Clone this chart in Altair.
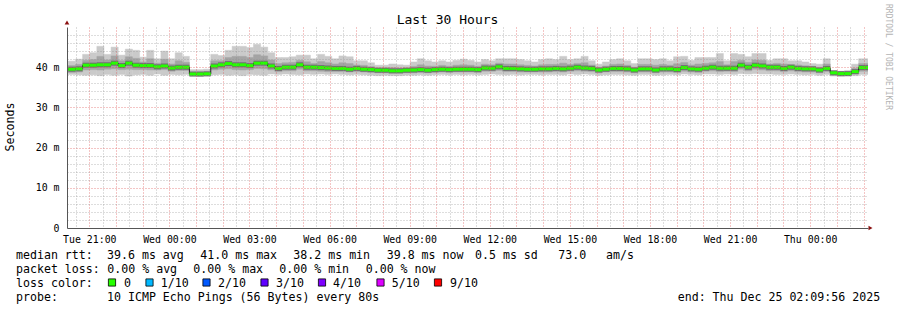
import altair as alt
import pandas as pd

# ---------------- data ----------------
STEP_START = "2025-12-23 19:57:00"   # first (partly hidden) 16-minute step
STEP_MINUTES = 16

median = [
    39.5, 39.5, 39.6, 40.5, 40.5, 40.6, 40.6, 41.0, 40.4, 41.0,
    40.5, 40.4, 40.4, 40.1, 40.3, 39.8, 40.0, 40.0, 38.3, 38.3,
    38.35, 40.3, 40.6, 40.9, 40.6, 40.6, 40.4, 41.0, 41.0, 40.3,
    39.7, 40.0, 40.0, 40.6, 40.0, 40.0, 39.9, 39.8, 39.7, 39.7,
    39.5, 39.7, 39.5, 39.4, 39.25, 39.25, 39.1, 39.1, 39.25, 39.3,
    39.4, 39.25, 39.4, 39.5, 39.4, 39.5, 39.5, 39.5, 39.4, 39.8,
    39.75, 40.1, 39.7, 39.7, 39.6, 39.5, 39.5, 39.6, 39.6, 39.7,
    39.6, 39.75, 40.0, 39.8, 39.7, 39.3, 39.5, 39.7, 39.7, 39.6,
    39.3, 39.6, 39.6, 39.3, 39.6, 39.6, 39.4, 39.9, 39.6, 39.5,
    39.75, 40.0, 39.75, 39.75, 39.75, 40.5, 40.0, 40.5, 40.3, 40.0,
    40.0, 39.7, 40.0, 39.7, 39.6, 39.6, 39.3, 39.7, 38.6, 38.4,
    38.4, 38.9, 39.9, 39.9,
]
smoke_hi1 = [
    41.5, 41.5, 42.0, 43.2, 43.6, 45.2, 43.2, 45.0, 43.0, 44.5,
    44.2, 42.5, 44.2, 42.1, 44.0, 42.1, 43.6, 42.7, 39.4, 39.4,
    39.5, 43.2, 42.9, 44.2, 45.2, 45.2, 44.9, 45.7, 45.0, 43.6,
    42.4, 42.4, 42.6, 43.0, 43.0, 42.1, 43.2, 42.7, 42.1, 42.8,
    42.6, 41.6, 41.6, 41.1, 40.5, 40.5, 40.8, 40.6, 40.5, 41.3,
    42.1, 41.6, 41.3, 41.6, 41.3, 41.7, 42.0, 41.7, 41.3, 41.9,
    41.6, 42.1, 42.1, 42.1, 41.9, 41.6, 41.3, 41.9, 42.1, 41.9,
    42.7, 41.9, 42.1, 42.7, 41.6, 40.75, 41.3, 41.9, 42.1, 41.6,
    40.9, 42.1, 42.1, 41.9, 42.1, 41.6, 42.6, 42.7, 41.7, 42.4,
    42.4, 42.4, 43.4, 41.6, 43.4, 43.2, 42.6, 43.4, 43.4, 41.7,
    42.1, 42.1, 41.6, 41.6, 41.3, 40.9, 40.75, 42.1, 39.1, 39.0,
    39.2, 40.75, 42.1, 42.1,
]
smoke_hi2 = [
    40.4, 40.4, 40.7, 41.7, 41.9, 42.7, 41.8, 42.8, 41.6, 42.6,
    42.2, 41.3, 42.1, 41.0, 42.0, 40.8, 41.6, 41.2, 38.8, 38.8,
    38.85, 41.6, 41.6, 42.4, 42.7, 42.7, 42.4, 43.1, 42.8, 41.8,
    40.9, 41.1, 41.2, 41.7, 41.35, 40.95, 41.4, 41.1, 40.8, 41.1,
    40.9, 40.55, 40.45, 40.15, 39.8, 39.8, 39.9, 39.8, 39.8, 40.2,
    40.6, 40.3, 40.25, 40.45, 40.25, 40.5, 40.6, 40.5, 40.25, 40.75,
    40.6, 41.0, 40.8, 40.8, 40.6, 40.45, 40.3, 40.6, 40.7, 40.7,
    41.0, 40.7, 40.95, 41.1, 40.55, 39.95, 40.3, 40.7, 40.8, 40.5,
    40.0, 40.7, 40.7, 40.5, 40.7, 40.5, 40.85, 41.15, 40.55, 40.8,
    40.95, 41.1, 41.4, 40.6, 41.4, 41.7, 41.2, 41.8, 41.7, 40.75,
    40.95, 40.8, 40.7, 40.55, 40.35, 40.2, 39.95, 40.8, 38.85, 38.7,
    38.75, 39.75, 40.9, 40.9,
]
smoke_lo1 = [
    38.2, 38.2, 38.1, 38.0, 38.1, 37.9, 38.2, 38.0, 38.2, 37.8,
    38.1, 38.2, 38.0, 38.3, 38.0, 38.2, 38.1, 38.2, 37.8, 37.7,
    37.8, 38.1, 38.2, 38.0, 38.1, 37.9, 38.2, 38.1, 38.0, 38.3,
    38.2, 38.3, 38.2, 38.1, 38.3, 38.2, 38.3, 38.2, 38.3, 38.2,
    38.1, 38.2, 38.1, 38.0, 37.9, 38.0, 37.9, 37.9, 38.0, 38.0,
    38.1, 38.0, 38.1, 38.2, 38.1, 38.2, 38.1, 38.2, 38.1, 38.2,
    38.3, 38.2, 38.1, 38.2, 38.1, 38.2, 38.2, 38.1, 38.2, 38.2,
    38.1, 38.3, 38.2, 38.3, 38.2, 38.0, 38.1, 38.2, 38.2, 38.1,
    38.0, 38.2, 38.2, 38.0, 38.1, 38.2, 38.1, 38.3, 38.2, 38.1,
    38.3, 38.3, 38.2, 38.3, 38.2, 38.4, 38.3, 38.4, 38.3, 38.3,
    38.2, 38.2, 38.3, 38.2, 38.1, 38.2, 38.0, 38.2, 37.8, 37.7,
    37.8, 37.9, 38.2, 38.2,
]
smoke_lo2 = [
    38.7, 38.7, 38.8, 39.3, 39.4, 39.3, 39.5, 39.6, 39.4, 39.5,
    39.4, 39.4, 39.3, 39.3, 39.4, 39.0, 39.2, 39.2, 37.95, 37.9,
    37.95, 39.3, 39.5, 39.6, 39.4, 39.3, 39.4, 39.7, 39.6, 39.3,
    38.9, 39.1, 39.1, 39.5, 39.1, 39.1, 39.0, 38.9, 38.9, 38.9,
    38.8, 38.9, 38.8, 38.7, 38.6, 38.6, 38.5, 38.5, 38.6, 38.6,
    38.7, 38.6, 38.7, 38.8, 38.7, 38.8, 38.8, 38.8, 38.7, 39.0,
    39.0, 39.2, 38.9, 38.9, 38.8, 38.8, 38.8, 38.8, 38.8, 38.9,
    38.8, 39.0, 39.1, 39.0, 38.9, 38.6, 38.8, 38.9, 38.9, 38.8,
    38.6, 38.8, 38.8, 38.6, 38.8, 38.8, 38.7, 39.0, 38.8, 38.7,
    39.0, 39.1, 38.9, 39.0, 38.9, 39.5, 39.1, 39.5, 39.3, 39.1,
    39.1, 38.9, 39.1, 38.9, 38.8, 38.8, 38.6, 38.9, 38.1, 37.95,
    38.0, 38.3, 39.0, 39.0,
]
assert len(median) == len(smoke_hi1) == len(smoke_hi2) == len(smoke_lo1) == len(smoke_lo2)

title_text = "Last 30 Hours"
y_title = "Seconds"
watermark = "RRDTOOL / TOBI OETIKER"

legend_rows = [
    ["median rtt:", "39.6 ms avg", "41.0 ms max", "38.2 ms min", "39.8 ms now", "0.5 ms sd", "73.0", "am/s"],
    ["packet loss:", "0.00 % avg", "0.00 % max", "0.00 % min", "0.00 % now"],
    ["loss color:", "0", "1/10", "2/10", "3/10", "4/10", "5/10", "9/10"],
    ["probe:", "10 ICMP Echo Pings (56 Bytes) every 80s", "end: Thu Dec 25 02:09:56 2025"],
]
loss_colors = ["#26ff00", "#00b8ff", "#0059ff", "#5e00ff", "#7e00ff", "#dd00ff", "#ff0000"]

# ---------------- layout (pixel placement of the text pieces) ----------------
PAD_L, PAD_T = 67, 27
W, H = 801, 201
row_x = [
    [16, 107, 200.3, 293.3, 386.7, 475, 558.3, 606],
    [16, 107.3, 193.3, 279.3, 365.7],
    [16, 124, 160.7, 218, 276, 333, 391.7, 450],
    [16, 107, 677.7],
]
row_y = [258.5, 272.7, 286.9, 301]
square_x = [112, 149.5, 206.5, 264.5, 322, 380.5, 438]
square_y = 282.5

MONO = "DejaVu Sans Mono"

starts = pd.date_range(STEP_START, periods=len(median), freq=f"{STEP_MINUTES}min")
df = pd.DataFrame({
    "start": starts,
    "end": starts + pd.Timedelta(minutes=STEP_MINUTES),
    "median": median,
    "hi1": smoke_hi1, "lo1": smoke_lo1,
    "hi2": smoke_hi2, "lo2": smoke_lo2,
})


def dt(ts):
    return alt.DateTime(year=ts.year, month=ts.month, date=ts.day,
                        hours=ts.hour, minutes=ts.minute, seconds=ts.second)


t_end = pd.Timestamp("2025-12-25 02:09:56")
t_begin = t_end - pd.Timedelta(hours=30)
half_hours = pd.date_range("2025-12-23 20:30", "2025-12-25 01:30", freq="60min")
hours = pd.date_range("2025-12-23 21:00", "2025-12-25 02:00", freq="60min")
label_times = pd.date_range("2025-12-23 21:00", "2025-12-25 00:00", freq="3h")

x_scale = alt.Scale(domain=[dt(t_begin), dt(t_end)], nice=False)
y_scale = alt.Scale(domain=[0, 50], nice=False, zero=True)

gray_y = [v for v in range(2, 50, 2) if v % 10 != 0]
red_y = [10, 20, 30, 40]
lab_y = [0, 10, 20, 30, 40]

grid_common = dict(labels=False, ticks=False, domain=False, title=None, grid=True,
                   zindex=1, gridDash=[1, 2], gridWidth=1)

ax_x_gray = alt.Axis(values=[dt(t) for t in half_hours], orient="bottom",
                     gridColor="#8c8c8c", gridOpacity=0.6, **grid_common)
ax_y_gray = alt.Axis(values=gray_y, orient="left",
                     gridColor="#8c8c8c", gridOpacity=0.6, **grid_common)
ax_x_red = alt.Axis(values=[dt(t) for t in hours], orient="bottom",
                    gridColor="#e05a5a", gridOpacity=0.7, **grid_common)
ax_y_red = alt.Axis(values=red_y, orient="left",
                    gridColor="#e05a5a", gridOpacity=0.7, **grid_common)
ax_x_lab = alt.Axis(values=[dt(t) for t in label_times], orient="bottom", format="%a %H:%M",
                    grid=False, ticks=False, tickSize=0, labelPadding=14,
                    labelBaseline="alphabetic", labelFont=MONO, labelFontSize=9.9,
                    labelColor="black", domainColor="#555555", title=None, zindex=1,
                    labelOverlap=False)
ax_y_lab = alt.Axis(values=lab_y, orient="left",
                    labelExpr="datum.value == 0 ? '0' : datum.value + ' m'",
                    grid=False, ticks=False, tickSize=0, labelPadding=8,
                    labelBaseline="middle", labelFont=MONO, labelFontSize=9.9,
                    labelColor="black", domainColor="#555555", title=None, zindex=1)

base = alt.Chart(df)

smoke1 = base.mark_rect(color="#cacaca", stroke="#cacaca", strokeWidth=0.5, clip=True).encode(
    x=alt.X("start:T", scale=x_scale, axis=ax_x_gray), x2="end:T",
    y=alt.Y("lo1:Q", scale=y_scale, axis=ax_y_gray), y2="hi1:Q",
)
smoke2 = base.mark_rect(color="#a4a4a4", stroke="#a4a4a4", strokeWidth=0.5, clip=True).encode(
    x=alt.X("start:T", scale=x_scale, axis=ax_x_red), x2="end:T",
    y=alt.Y("lo2:Q", scale=y_scale, axis=ax_y_red), y2="hi2:Q",
)
dark = base.mark_rule(color="#6e6e6e", strokeWidth=5, clip=True).encode(
    x=alt.X("start:T", scale=x_scale, axis=None), x2="end:T",
    y=alt.Y("median:Q", scale=y_scale, axis=None),
)
med_line = base.mark_line(interpolate="step-after", color="#202020", strokeWidth=1, clip=True).encode(
    x=alt.X("start:T", scale=x_scale, axis=None),
    y=alt.Y("median:Q", scale=y_scale, axis=None),
)
green = base.mark_rule(color="#26ff00", strokeWidth=3, clip=True).encode(
    x=alt.X("start:T", scale=x_scale, axis=ax_x_lab), x2="end:T",
    y=alt.Y("median:Q", scale=y_scale, axis=ax_y_lab),
)

# ---- texts ----
txt_rows = []
for r, (pieces, xs) in enumerate(zip(legend_rows, row_x)):
    for p, xv in zip(pieces, xs):
        txt_rows.append({"text": p, "x": xv - PAD_L, "y": row_y[r] - PAD_T})
txt_df = pd.DataFrame(txt_rows)
legend_text = alt.Chart(txt_df).mark_text(
    font=MONO, fontSize=11.6, align="left", baseline="alphabetic", color="black"
).encode(
    x=alt.X("x:Q", scale=None, axis=None),
    y=alt.Y("y:Q", scale=None, axis=None),
    text="text:N",
)

sq_df = pd.DataFrame({"x": [v - PAD_L for v in square_x],
                      "y": [square_y - PAD_T] * len(square_x),
                      "c": loss_colors})
squares = alt.Chart(sq_df).mark_point(
    shape="square", filled=True, size=52, stroke="black", strokeWidth=0.8, opacity=1
).encode(
    x=alt.X("x:Q", scale=None, axis=None),
    y=alt.Y("y:Q", scale=None, axis=None),
    fill=alt.Fill("c:N", scale=None),
)

title_df = pd.DataFrame({"text": [title_text], "x": [447.5 - PAD_L], "y": [24 - PAD_T]})
title = alt.Chart(title_df).mark_text(
    font=MONO, fontSize=13, align="center", baseline="alphabetic", color="black"
).encode(x=alt.X("x:Q", scale=None, axis=None), y=alt.Y("y:Q", scale=None, axis=None), text="text:N")

ytitle_df = pd.DataFrame({"text": [y_title], "x": [11 - PAD_L], "y": [127 - PAD_T]})
ytitle = alt.Chart(ytitle_df).mark_text(
    font=MONO, fontSize=11.6, align="center", baseline="middle", angle=270, color="black"
).encode(x=alt.X("x:Q", scale=None, axis=None), y=alt.Y("y:Q", scale=None, axis=None), text="text:N")

wm_df = pd.DataFrame({"text": [watermark], "x": [888 - PAD_L], "y": [4 - PAD_T]})
wmark = alt.Chart(wm_df).mark_text(
    font=MONO, fontSize=8, align="left", baseline="middle", angle=90, color="#b4b4b4"
).encode(x=alt.X("x:Q", scale=None, axis=None), y=alt.Y("y:Q", scale=None, axis=None), text="text:N")

arrow_df = pd.DataFrame({"x": [0, W + 2.5], "y": [-4.5, H], "s": ["triangle-up", "triangle-right"]})
arrows = alt.Chart(arrow_df).mark_point(filled=True, size=22, color="#8b1010", opacity=1).encode(
    x=alt.X("x:Q", scale=None, axis=None),
    y=alt.Y("y:Q", scale=None, axis=None),
    shape=alt.Shape("s:N", scale=None),
)

chart = alt.layer(
    smoke1, smoke2, dark, med_line, green,
    legend_text, squares, title, ytitle, wmark, arrows,
).resolve_axis(x="independent", y="independent").properties(
    width=W, height=H,
    autosize=alt.AutoSizeParams(type="none"),
    padding={"left": PAD_L, "top": PAD_T, "right": 897 - PAD_L - W, "bottom": 310 - PAD_T - H},
    background="white",
).configure_view(stroke=None)

chart.save("out.html", embed_options={"renderer": "svg", "actions": False})
